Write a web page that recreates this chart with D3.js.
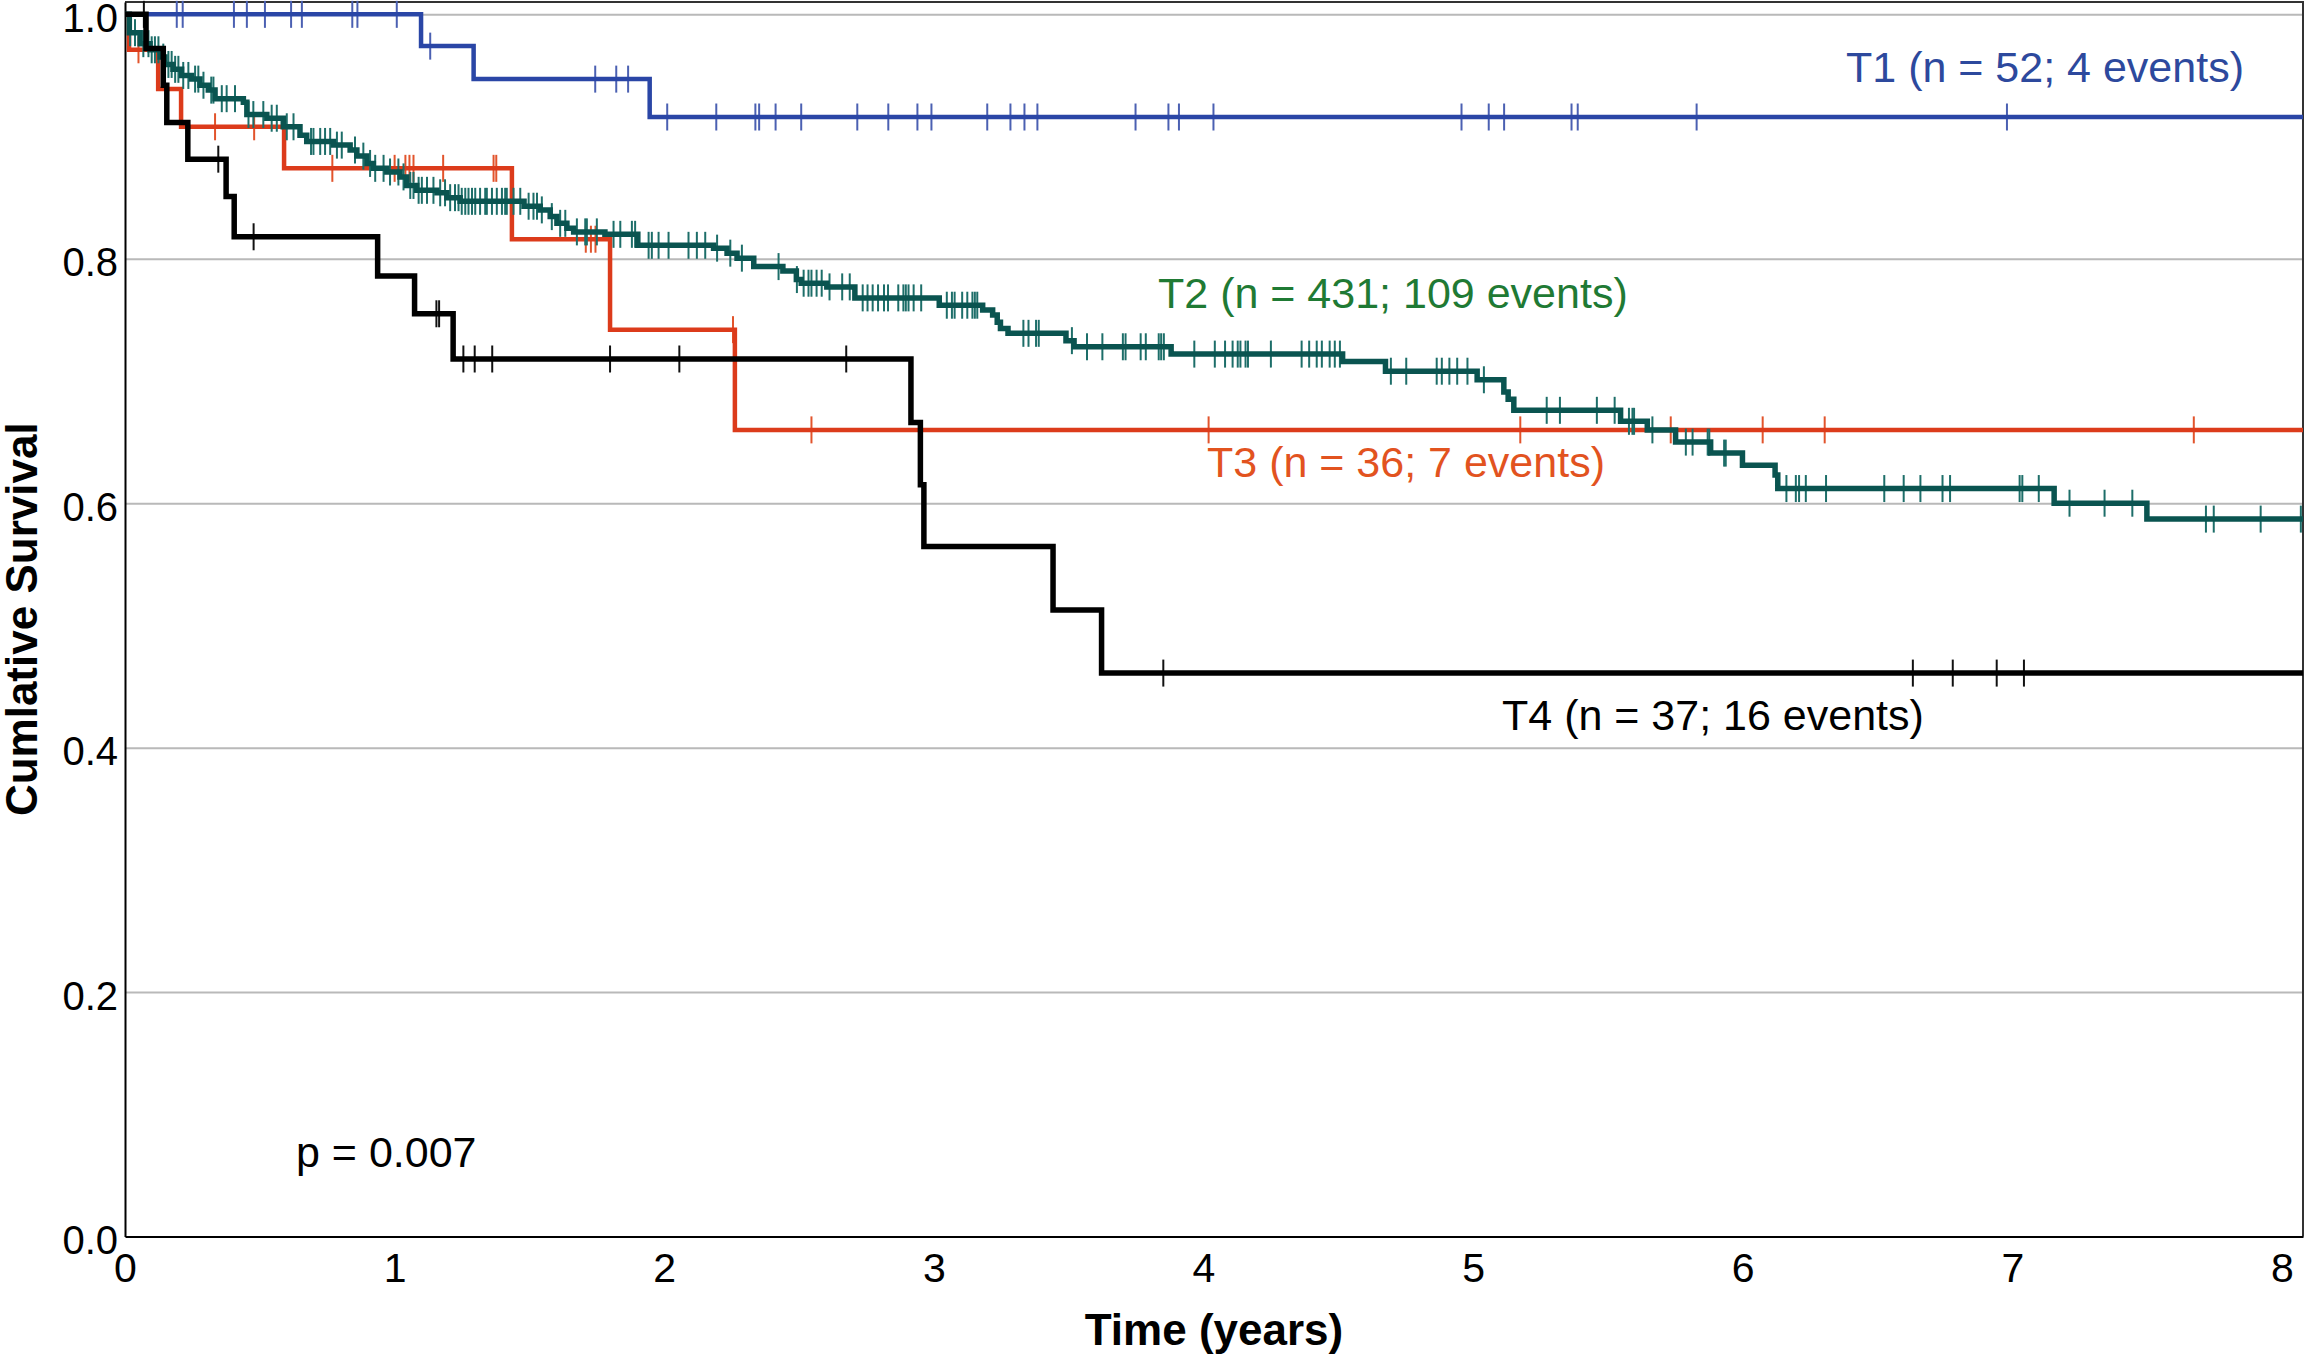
<!DOCTYPE html>
<html>
<head>
<meta charset="utf-8">
<script src="https://cdn.jsdelivr.net/npm/d3@7"></script>
<style>
  html, body { margin: 0; padding: 0; background: #fff; }
  svg { display: block; font-family: "Liberation Sans", Arial, sans-serif; }
</style>
</head>
<body>
<div id="chart"></div>
<script>
// Kaplan-Meier curves: step times (years) and survival after each step
const t1Times = [0, 1.098, 1.293, 1.946];
const t1Surv = [1.0, 0.974, 0.947, 0.916];
const t1Censored = [0.192, 0.214, 0.404, 0.452, 0.519, 0.616, 0.656, 0.843, 0.862, 1.008,
  1.132, 1.744, 1.822, 1.866, 2.011, 2.193, 2.338, 2.352, 2.413, 2.508, 2.716, 2.831,
  2.939, 2.991, 3.198, 3.284, 3.336, 3.384, 3.748, 3.870, 3.909, 4.037, 4.957, 5.058,
  5.115, 5.365, 5.388, 5.829, 6.980];

const t2Times = [0, 0.016, 0.056, 0.093, 0.130, 0.148, 0.178, 0.210, 0.247, 0.278, 0.309,
  0.334, 0.439, 0.452, 0.526, 0.587, 0.649, 0.674, 0.773, 0.835, 0.860, 0.897, 0.921,
  0.971, 1.020, 1.045, 1.082, 1.157, 1.194, 1.243, 1.480, 1.540, 1.577, 1.602, 1.639,
  1.664, 1.780, 1.902, 2.183, 2.233, 2.270, 2.332, 2.440, 2.490, 2.508, 2.603, 2.707,
  3.020, 3.181, 3.218, 3.235, 3.247, 3.275, 3.490, 3.520, 3.880, 4.516, 4.675, 5.015,
  5.114, 5.130, 5.151, 5.547, 5.646, 5.751, 5.881, 5.999, 6.120, 6.130, 7.155, 7.499];
const t2Surv = [1.0, 0.985, 0.976, 0.971, 0.965, 0.959, 0.955, 0.950, 0.947, 0.942, 0.938,
  0.931, 0.928, 0.918, 0.915, 0.908, 0.901, 0.896, 0.893, 0.889, 0.884, 0.878, 0.874,
  0.871, 0.867, 0.860, 0.856, 0.854, 0.850, 0.847, 0.843, 0.840, 0.8345, 0.829, 0.825,
  0.822, 0.820, 0.811, 0.8087, 0.8046, 0.8005, 0.7936, 0.790, 0.783, 0.780, 0.777, 0.768,
  0.762, 0.758, 0.754, 0.748, 0.743, 0.739, 0.733, 0.728, 0.722, 0.716, 0.708, 0.701,
  0.691, 0.685, 0.676, 0.667, 0.660, 0.650, 0.641, 0.631, 0.623, 0.612, 0.600, 0.587];
const t2Censored = [0.019, 0.037, 0.068, 0.087, 0.099, 0.111, 0.124, 0.142, 0.161, 0.173,
  0.186, 0.198, 0.216, 0.235, 0.260, 0.272, 0.291, 0.320, 0.328, 0.359, 0.377, 0.408,
  0.458, 0.476, 0.513, 0.544, 0.563, 0.600, 0.625, 0.690, 0.699, 0.724, 0.742, 0.761,
  0.786, 0.804, 0.853, 0.884, 0.909, 0.928, 0.959, 0.983, 1.014, 1.033, 1.058, 1.070,
  1.089, 1.101, 1.120, 1.144, 1.169, 1.187, 1.206, 1.224, 1.237, 1.249, 1.262, 1.274,
  1.287, 1.299, 1.317, 1.336, 1.342, 1.361, 1.379, 1.398, 1.410, 1.416, 1.441, 1.466,
  1.497, 1.515, 1.528, 1.546, 1.583, 1.614, 1.633, 1.676, 1.707, 1.713, 1.750, 1.812,
  1.837, 1.880, 1.892, 1.942, 1.954, 1.979, 2.016, 2.090, 2.121, 2.152, 2.196, 2.245,
  2.288, 2.424, 2.492, 2.517, 2.535, 2.546, 2.565, 2.584, 2.613, 2.660, 2.688, 2.736,
  2.754, 2.773, 2.793, 2.815, 2.830, 2.868, 2.887, 2.896, 2.906, 2.925, 2.953, 3.048,
  3.067, 3.077, 3.105, 3.124, 3.143, 3.152, 3.161, 3.332, 3.351, 3.379, 3.389, 3.512,
  3.568, 3.625, 3.701, 3.711, 3.767, 3.786, 3.834, 3.843, 3.853, 3.966, 4.042, 4.080,
  4.108, 4.127, 4.137, 4.156, 4.165, 4.250, 4.364, 4.392, 4.420, 4.439, 4.468, 4.487,
  4.506, 4.695, 4.752, 4.865, 4.884, 4.912, 4.941, 4.979, 5.040, 5.273, 5.322, 5.459,
  5.525, 5.578, 5.591, 5.597, 5.665, 5.789, 5.814, 5.870, 5.876, 5.931, 5.937, 6.162,
  6.197, 6.209, 6.234, 6.309, 6.525, 6.597, 6.659, 6.741, 6.769, 7.027, 7.037, 7.098,
  7.212, 7.342, 7.445, 7.718, 7.747, 7.921, 8.070];

const t3Times = [0, 0.015, 0.123, 0.208, 0.590, 1.435, 1.799, 2.262];
const t3Surv = [1.0, 0.971, 0.939, 0.908, 0.874, 0.816, 0.742, 0.660];
const t3Censored = [0.05, 0.334, 0.479, 0.769, 1.00, 1.04, 1.055, 1.07, 1.18, 1.367, 1.377,
  1.709, 1.728, 1.745, 2.255, 2.546, 4.019, 5.175, 5.733, 6.074, 6.304, 7.673];

const t4Times = [0, 0.078, 0.142, 0.155, 0.233, 0.375, 0.405, 0.937, 1.074, 1.217, 2.915,
  2.950, 2.963, 3.442, 3.622];
const t4Surv = [1.0, 0.972, 0.942, 0.9115, 0.8815, 0.851, 0.818, 0.786, 0.755, 0.718, 0.666,
  0.615, 0.5645, 0.5127, 0.461];
const t4Censored = [0.07, 0.346, 0.477, 1.155, 1.165, 1.255, 1.297, 1.362, 1.799, 2.056,
  2.675, 3.851, 6.631, 6.779, 6.942, 7.043];

const seriesNames = ["T1", "T2", "T3", "T4"];
const seriesLabels = ["T1 (n = 52; 4 events)", "T2 (n = 431; 109 events)",
  "T3 (n = 36; 7 events)", "T4 (n = 37; 16 events)"];
const xTicks = [0, 1, 2, 3, 4, 5, 6, 7, 8];
const yTicks = [0.0, 0.2, 0.4, 0.6, 0.8, 1.0];
const pValueText = "p = 0.007";

const width = 2306;
const height = 1355;
const margin = { top: 2, right: 3, bottom: 118.5, left: 125 };
const xMax = 8.078;

const x = d3.scaleLinear().domain([0, xMax]).range([margin.left, width - margin.right]);
const y = d3.scaleLinear().domain([0, 1.0101]).range([height - margin.bottom, margin.top]);

const svg = d3.select("#chart").append("svg")
  .attr("width", width)
  .attr("height", height)
  .attr("viewBox", [0, 0, width, height]);

// grid lines
svg.append("g")
  .attr("transform", `translate(${margin.left},0)`)
  .call(d3.axisLeft(y).tickValues(yTicks.filter((d) => d > 0))
    .tickSize(-(width - margin.left - margin.right)).tickFormat(""))
  .call((g) => g.select(".domain").remove())
  .selectAll("line")
  .attr("stroke", "#b9b9b9")
  .attr("stroke-width", 2);

// frame (top / right)
svg.append("path")
  .attr("d", `M${margin.left},${margin.top}H${width - margin.right}V${height - margin.bottom}`)
  .attr("fill", "none")
  .attr("stroke", "#333")
  .attr("stroke-width", 2);

// y axis
const yAxis = svg.append("g")
  .attr("transform", `translate(${margin.left},0)`)
  .call(d3.axisLeft(y).tickValues(yTicks).tickSize(0).tickPadding(7).tickFormat(d3.format(".1f")));
yAxis.select(".domain").attr("stroke", "#000").attr("stroke-width", 2);
yAxis.selectAll("text")
  .attr("dy", "0.43em")
  .attr("font-size", 40)
  .attr("fill", "#000");

// x axis
const xAxis = svg.append("g")
  .attr("transform", `translate(0,${height - margin.bottom})`)
  .call(d3.axisBottom(x).tickValues(xTicks).tickSize(0).tickPadding(16).tickFormat(d3.format("d")));
xAxis.select(".domain").attr("stroke", "#000").attr("stroke-width", 2);
xAxis.selectAll("text")
  .attr("font-size", 41)
  .attr("fill", "#000");

// axis titles
svg.append("text")
  .attr("x", (margin.left + width - margin.right) / 2)
  .attr("y", 1345)
  .attr("text-anchor", "middle")
  .attr("font-size", 44)
  .attr("font-weight", "bold")
  .text("Time (years)");

svg.append("text")
  .attr("transform", `translate(37,${(margin.top + height - margin.bottom) / 2}) rotate(-90)`)
  .attr("text-anchor", "middle")
  .attr("font-size", 44)
  .attr("font-weight", "bold")
  .text("Cumlative Survival");

const series = [
  { name: seriesNames[0], times: t1Times, surv: t1Surv, cens: t1Censored, line: "#2a46a6", tick: "#4b60b2", width: 4.5 },
  { name: seriesNames[2], times: t3Times, surv: t3Surv, cens: t3Censored, line: "#dc3b1b", tick: "#e2542c", width: 4.5 },
  { name: seriesNames[1], times: t2Times, surv: t2Surv, cens: t2Censored, line: "#0a5450", tick: "#1d6e69", width: 5.5 },
  { name: seriesNames[3], times: t4Times, surv: t4Surv, cens: t4Censored, line: "#000000", tick: "#111111", width: 5.5 },
];

const stepLine = d3.line()
  .x((d) => x(d[0]))
  .y((d) => y(d[1]))
  .curve(d3.curveStepAfter);

function survAt(s, t) {
  const i = d3.bisectRight(s.times, t) - 1;
  return s.surv[Math.max(0, i)];
}

series.forEach((s) => {
  const pts = s.times.map((t, i) => [t, s.surv[i]]);
  pts.push([xMax, s.surv[s.surv.length - 1]]);

  const g = svg.append("g").attr("class", `series-${s.name}`);

  g.selectAll(".cens")
    .data(s.cens)
    .enter()
    .append("line")
    .attr("class", "cens")
    .attr("x1", (d) => x(d))
    .attr("x2", (d) => x(d))
    .attr("y1", (d) => y(survAt(s, d)) - 13.5)
    .attr("y2", (d) => y(survAt(s, d)) + 13.5)
    .attr("stroke", s.tick)
    .attr("stroke-width", 2);

  g.append("path")
    .datum(pts)
    .attr("fill", "none")
    .attr("stroke", s.line)
    .attr("stroke-width", s.width)
    .attr("stroke-linejoin", "miter")
    .attr("d", stepLine);
});

// curve labels
const labelInfo = [
  { text: seriesLabels[0], x: 1846, y: 82, color: "#2d499d" },
  { text: seriesLabels[1], x: 1158, y: 308, color: "#1f7a34" },
  { text: seriesLabels[2], x: 1207, y: 477, color: "#e2531f" },
  { text: seriesLabels[3], x: 1502, y: 730, color: "#000000" },
];

svg.append("g")
  .selectAll("text")
  .data(labelInfo)
  .enter()
  .append("text")
  .attr("x", (d) => d.x)
  .attr("y", (d) => d.y)
  .attr("font-size", 43)
  .attr("fill", (d) => d.color)
  .text((d) => d.text);

svg.append("text")
  .attr("x", 296)
  .attr("y", 1167)
  .attr("font-size", 43)
  .attr("fill", "#000")
  .text(pValueText);
</script>
</body>
</html>
